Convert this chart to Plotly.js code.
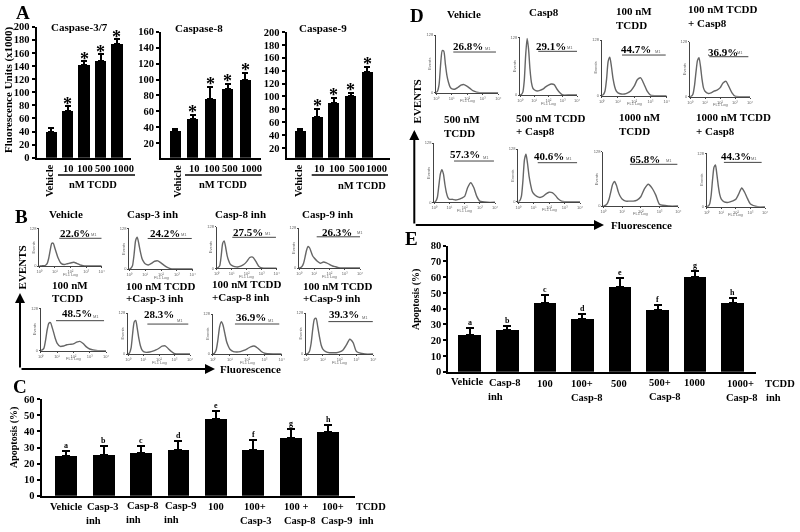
<!DOCTYPE html>
<html><head><meta charset="utf-8">
<script src="https://cdn.plot.ly/plotly-3.0.1.min.js"></script>
<style>html,body{margin:0;padding:0;background:#fff}#p{width:800px;height:532px;filter:blur(0.5px)}</style>
</head><body><div id="p"></div>
<script>
// ---- Panel A
const doseCats = ['Vehicle','10','100','500','1000'];
const casp37Values = [40,72,141,148,173];
const casp37Errors = [5,7,6,10,8];
const casp8Values = [36,50,76,88,100];
const casp8Errors = [2,5,14,6,8];
const casp9Values = [46,68,90,100,138];
const casp9Errors = [3,12,8,5,8];
// ---- Panel C
const cCats = ['Vehicle','Casp-3 inh','Casp-8 inh','Casp-9 inh','100','100+Casp-3','100+Casp-8','100+Casp-9'];
const cValues = [25,25.5,26.5,28.5,48,28.5,36,39.5];
const cErrors = [3,5.5,4.5,5.5,5,6,5.5,4.5];
// ---- Panel E
const eCats = ['Vehicle','Casp-8 inh','100','100+Casp-8','500','500+Casp-8','1000','1000+Casp-8'];
const eValues = [23.5,26.5,43.5,33.5,53.5,39,60,43.5];
const eErrors = [4,2.5,5,3,6,3.5,4,3];
const letters = ['a','b','c','d','e','f','g','h'];
// ---- Flow histograms: log10 fluorescence grid, % of axis height
const flowX = [0,.1,.2,.3,.4,.5,.6,.7,.8,.9,1,1.2,1.4,1.6,1.8,2,2.2,2.4,2.6,2.8,3,3.5,4];
const bCurves = [
 [0,0,1,1,2,6,20,42,60,60,47,22,7,4,6,8,10,7,3,1,0,0,0],
 [0,2,8,35,70,78,62,42,26,18,13,10,14,19,20,15,9,4,1,0,0,0,0],
 [0,2,6,30,60,66,50,30,18,10,7,4,3,5,9,16,26,27,17,5,1,0,0],
 [0,1,4,12,28,45,54,50,40,30,25,17,12,15,13,9,5,3,1,0,0,0,0],
 [0,2,6,25,50,65,66,55,42,28,18,10,11,14,15,16,20,22,17,9,4,0,0],
 [0,3,15,50,78,82,62,38,20,10,6,4,5,7,10,14,19,20,13,6,1,0,0],
 [0,2,10,35,68,81,72,52,32,20,12,6,5,6,9,13,18,20,15,7,2,0,0],
 [0,1,6,25,60,85,87,66,42,22,12,5,3,3,3,5,10,22,36,28,6,0,0]];
const dCurves = [
 [0,3,15,50,73,72,50,30,18,10,7,6,9,13,14,11,7,3,1,0,0,0,0],
 [0,1,5,25,70,98,80,45,22,12,9,7,8,10,14,17,19,18,10,4,0,0,0],
 [0,2,8,30,62,69,52,30,16,8,5,3,3,5,9,17,29,32,21,8,1,0,0],
 [0,1,5,20,45,66,71,55,32,16,10,6,7,10,12,16,25,28,18,7,1,0,0],
 [0,2,8,28,48,55,48,30,16,8,5,5,4,5,7,10,25,33,25,10,2,0,0],
 [0,2,10,40,80,90,72,48,32,20,15,10,8,10,15,18,17,12,5,1,0,0,0],
 [0,1,4,12,26,40,45,38,26,18,13,9,9,9,11,17,32,40,33,20,3,0,0],
 [0,1,5,20,50,74,78,60,38,22,14,9,8,9,11,14,24,35,27,15,5,0,0]];
const bPercents = ['22.6%','24.2%','27.5%','26.3%','48.5%','28.3%','36.9%','39.3%'];
const dPercents = ['26.8%','29.1%','44.7%','36.9%','57.3%','40.6%','65.8%','44.3%'];
const bGateFrom = [1.28,1.16,1.04,1.16,.94,1.25,1.29,1.33];
const bGateTo   = [4,3.94,3.95,4.54,3.88,3.89,3.86,3.97];
const bGateLevel= [73.5,75,74.5,78,70.8,73,75,79];
const dGateFrom = [1.11,1.28,1.25,1.29,1.3,1.26,1.42,1.18];
const dGateTo   = [3.85,4.05,3.94,3.89,3.93,3.81,3.95,3.77];
const dGateLevel= [70.5,75.7,73,72.7,69.6,74,76.8,83];
const flowTicks = ['10\u2070','10\u00B9','10\u00B2','10\u00B3','10\u2074'];

// ---- layout geometry
const W=800,H=532, FONT='Liberation Serif';
const px=x=>x/W, py=y=>1-y/H;
const data=[], layout={width:W,height:H,margin:{l:0,r:0,t:0,b:0},paper_bgcolor:'#fff',plot_bgcolor:'rgba(0,0,0,0)',
  showlegend:false,bargap:0,annotations:[],shapes:[],font:{family:FONT,color:'#000'}};
let n=0;
function T(x,y,text,size,o={}){
  layout.annotations.push(Object.assign({x:px(x),y:py(y),xref:'paper',yref:'paper',text,showarrow:false,
    xanchor:'center',yanchor:'middle',borderpad:0,
    font:{family:FONT,size,color:o.color||'#000',weight:o.weight===undefined?700:o.weight}},o.extra||{}));
}
function L(x0,y0,x1,y1,w=2,c='#000'){
  layout.shapes.push({type:'line',xref:'paper',yref:'paper',x0:px(x0),x1:px(x1),y0:py(y0),y1:py(y1),line:{width:w,color:c}});
}
function axes(l,r,t,b){
  n++; const s=n===1?'':n;
  return {xk:'xaxis'+s,yk:'yaxis'+s,x:'x'+s,y:'y'+s,dx:[px(l),px(r)],dy:[py(b),py(t)]};
}
function barPanel(o){
  const a=axes(o.l,o.r,o.t,o.b);
  layout[a.xk]={domain:a.dx,anchor:a.y,type:'category',range:o.xr,showline:true,linewidth:2,linecolor:'#000',ticks:'',showticklabels:false,showgrid:false,zeroline:false,fixedrange:true,categoryorder:'array',categoryarray:o.cats};
  layout[a.yk]={domain:a.dy,anchor:a.x,range:o.yr,tickvals:o.ticks,showline:true,linewidth:2,linecolor:'#000',ticks:'outside',ticklen:3,tickwidth:2,tickcolor:'#000',showgrid:false,zeroline:false,fixedrange:true,
    tickfont:{family:FONT,size:o.fs,color:'#000',weight:700}};
  data.push({type:'bar',x:o.cats,y:o.vals,width:o.bw,marker:{color:'#000',line:{width:0}},xaxis:a.x,yaxis:a.y,
    error_y:{type:'data',symmetric:false,array:o.errs,arrayminus:o.errs.map(()=>0),color:'#000',thickness:2,width:o.cap}});
  return a;
}
function flowPanel(box,curve,from,to,level,pct,pos){
  const a=axes(box[0],box[1],box[2],box[3]);
  const c='#444';
  const tf={family:'Liberation Sans',size:4,color:'#666'};
  layout[a.xk]={domain:a.dx,anchor:a.y,range:[0,4],tickvals:[0,1,2,3,4],ticktext:flowTicks,showline:true,linewidth:1,linecolor:c,ticks:'outside',ticklen:1,tickwidth:1,tickcolor:c,showgrid:false,zeroline:false,fixedrange:true,tickfont:tf};
  layout[a.yk]={domain:a.dy,anchor:a.x,range:[0,100],tickvals:[0,100],ticktext:['0','128'],showline:true,linewidth:1,linecolor:c,ticks:'outside',ticklen:1,tickwidth:1,tickcolor:c,showgrid:false,zeroline:false,fixedrange:true,tickfont:tf};
  data.push({type:'scatter',mode:'lines',x:flowX,y:curve,line:{color:'#666',width:1.4,shape:'spline',smoothing:0.6},xaxis:a.x,yaxis:a.y,cliponaxis:false});
  data.push({type:'scatter',mode:'lines',x:[from,to],y:[level,level],line:{color:'#444',width:1},xaxis:a.x,yaxis:a.y,cliponaxis:false});
  T(pos[0],pos[1],pct,11);
  const gx=box[0]+(box[1]-box[0])*to/4, gy=box[3]-(box[3]-box[2])*level/100;
  T(gx-8,gy-4,'M1',4,{extra:{font:{family:'Liberation Sans',size:4,color:'#666'}}});
  T((box[0]+box[1])/2,box[3]+8,'FL1 Log',4,{extra:{font:{family:'Liberation Sans',size:4,color:'#666'}}});
  T(box[0]-6,(box[2]+box[3])/2,'Events',4,{extra:{textangle:-90,font:{family:'Liberation Sans',size:4,color:'#666'}}});
}
function stars(a,vals,errs,shift){
  vals.forEach((v,i)=>{ if(i===0) return;
    layout.annotations.push({xref:a.x,yref:a.y,x:i,y:v+errs[i],text:'*',showarrow:false,yanchor:'middle',yshift:shift,borderpad:0,font:{family:FONT,size:18,color:'#000',weight:700}});
  });
}
function letterMarks(a,vals,errs){
  vals.forEach((v,i)=>layout.annotations.push({xref:a.x,yref:a.y,x:i,y:v+errs[i],text:letters[i],showarrow:false,yanchor:'bottom',yshift:0,borderpad:0,font:{family:FONT,size:8,color:'#000',weight:700}}));
}
const tk=(a,b,s)=>{const r=[];for(let v=a;v<=b;v+=s)r.push(v);return r;};

// Panel A
const a1=barPanel({l:36.7,r:131,t:26.7,b:157.7,xr:[-0.87,4.85],yr:[0,200],cats:doseCats,vals:casp37Values,errs:casp37Errors,bw:.67,cap:3,ticks:tk(0,200,20),fs:10.5});
const a2=barPanel({l:161,r:261,t:31.7,b:157.7,xr:[-0.82,4.9],yr:[1.9,160],cats:doseCats,vals:casp8Values,errs:casp8Errors,bw:.63,cap:3,ticks:tk(20,160,20),fs:10.5});
const a3=barPanel({l:286.7,r:390,t:32,b:157.7,xr:[-0.82,5.35],yr:[5,200],cats:doseCats,vals:casp9Values,errs:casp9Errors,bw:.65,cap:3,ticks:tk(20,200,20),fs:10.5});
stars(a1,casp37Values,casp37Errors,2);
stars(a2,casp8Values,casp8Errors,3);
stars(a3,casp9Values,casp9Errors,3);
T(22.7,12.7,'A',19); T(79,27,'Caspase-3/7',11); T(199,28,'Caspase-8',11); T(323,28,'Caspase-9',11);
T(8,90,'Fluorescence Units (x1000)',11,{extra:{textangle:-90}});
[[49,[68,84.7,103.3,123],58,135,93,184],[176.7,[194,212,230,251.7],185,261.7,222.7,184],[298,[319,337,356.7,376.7],311.7,388,361.7,185]].forEach(g=>{
  T(g[0],181,'Vehicle',10.5,{extra:{textangle:-90}});
  g[1].forEach((x,i)=>T(x,168.7,doseCats[i+1],10.5));
  L(g[2],175,g[3],175,1.5);
  T(g[4],g[5],'nM TCDD',10.5);
});

// Panel B
const bBoxes=[[39.3,101.7,228.3,266],[129.3,192.7,228.3,269],[216.7,276.7,226.7,268.3],[299,360,228,268],[40.7,106,308.3,350.7],[128,190,313,354],[212.7,281.7,314,354],[306,373.3,313,354]];
const bPos=[[75,233.3],[165,233],[248,232],[337,232],[76.7,313],[159,314],[250.7,317.3],[344,314]];
bBoxes.forEach((b,i)=>flowPanel(b,bCurves[i],bGateFrom[i],bGateTo[i],bGateLevel[i],bPercents[i],bPos[i]));
T(21.7,216.7,'B',19);
T(66,214.3,'Vehicle',11);T(152.7,214,'Casp-3 inh',11);T(240,213.7,'Casp-8 inh',11);T(327,214,'Casp-9 inh',11);
const LA={extra:{xanchor:'left'}};
T(50.7,285,'100 nM',11,LA);T(50.7,298,'TCDD',11,LA);
T(125,286,'100 nM TCDD',11,LA);T(125,298,'+Casp-3 inh',11,LA);
T(210.7,284.3,'100 nM TCDD',11,LA);T(210.7,297,'+Casp-8 inh',11,LA);
T(301.7,286,'100 nM TCDD',11,LA);T(301.7,298,'+Casp-9 inh',11,LA);
T(21.7,267.7,'EVENTS',11,{extra:{textangle:-90}});
T(251,368.5,'Fluorescence',11);
function arrows(x0,y0,x1,y1){
  layout.annotations.push({xref:'paper',yref:'paper',axref:'pixel',ayref:'pixel',x:px(x0),y:py(y1),ax:0,ay:y0-y1,text:'',showarrow:true,arrowhead:2,arrowsize:1,arrowwidth:2,arrowcolor:'#000'});
  layout.annotations.push({xref:'paper',yref:'paper',axref:'pixel',ayref:'pixel',x:px(x1),y:py(y0),ax:x0-x1,ay:0,text:'',showarrow:true,arrowhead:2,arrowsize:1,arrowwidth:2,arrowcolor:'#000'});
}
arrows(20,369,215,293);

// Panel C
const c=barPanel({l:41.7,r:355,t:399.3,b:495.7,xr:[-0.658,7.72],yr:[0,60],cats:cCats,vals:cValues,errs:cErrors,bw:.58,cap:4,ticks:tk(0,60,10),fs:10.5});
letterMarks(c,cValues,cErrors);
T(20,387,'C',19);T(14,438,'Apoptosis (%)',10,{extra:{textangle:-90}});
[[66.7,506.7,'Vehicle'],[102.7,506.7,'Casp-3'],[93.3,520,'inh'],[142.7,505,'Casp-8'],[133,519,'inh'],[181,505,'Casp-9'],[171.7,519,'inh'],[215.7,506,'100'],[255,506,'100+'],[256,520,'Casp-3'],[296,506,'100 +'],[300,520,'Casp-8'],[332.7,506,'100+'],[336.7,520,'Casp-9'],[370.7,506,'TCDD'],[366.7,520,'inh']].forEach(t=>T(t[0],t[1],t[2],10.5));

// Panel D
const dBoxes=[[436,498.3,35,92.7],[520,577,37.3,95],[601.7,666.7,40,95.7],[690,750,41.7,96.7],[434.3,495,143,202.3],[518.3,580,149,201.7],[603.3,678.3,151.7,206],[706.7,765,153.3,206.7]];
const dPos=[[468.3,46],[551,46],[636,48.7],[722.7,51.7],[465,154.3],[549.3,155.7],[645,159.3],[736,155.7]];
dBoxes.forEach((b,i)=>flowPanel(b,dCurves[i],dGateFrom[i],dGateTo[i],dGateLevel[i],dPercents[i],dPos[i]));
T(417,15,'D',19);
T(464,14,'Vehicle',11);T(544,12,'Casp8',11);
T(615,11,'100 nM',11,LA);T(615,25,'TCDD',11,LA);
T(687,9,'100 nM TCDD',11,LA);T(687,23,'+ Casp8',11,LA);
T(442.7,119,'500 nM',11,LA);T(442.7,133,'TCDD',11,LA);
T(515,118,'500 nM TCDD',11,LA);T(515,131,'+ Casp8',11,LA);
T(618,117,'1000 nM',11,LA);T(618,131,'TCDD',11,LA);
T(695,117,'1000 nM TCDD',11,LA);T(695,131,'+ Casp8',11,LA);
T(416.7,101.7,'EVENTS',11,{extra:{textangle:-90}});
T(641,225,'Fluorescence',11);
arrows(414.3,225,604,130);

// Panel E
const e=barPanel({l:448.3,r:756,t:245.7,b:371.7,xr:[-0.57,7.62],yr:[0,80],cats:eCats,vals:eValues,errs:eErrors,bw:.6,cap:4,ticks:tk(0,80,10),fs:10.5});
letterMarks(e,eValues,eErrors);
T(411,238,'E',19);T(416,300,'Apoptosis (%)',10,{extra:{textangle:-90}});
[[467.7,381.7,'Vehicle'],[505,382,'Casp-8'],[495,396,'inh'],[545,383,'100'],[581.7,383,'100+'],[586.7,397,'Casp-8'],[619,383,'500'],[660,382,'500+'],[665,396,'Casp-8'],[694,382,'1000'],[740,383,'1000+'],[742,397,'Casp-8'],[780,383,'TCDD'],[773,397,'inh']].forEach(t=>T(t[0],t[1],t[2],10.5));

Plotly.newPlot('p',data,layout,{staticPlot:true,displayModeBar:false});
</script></body></html>
